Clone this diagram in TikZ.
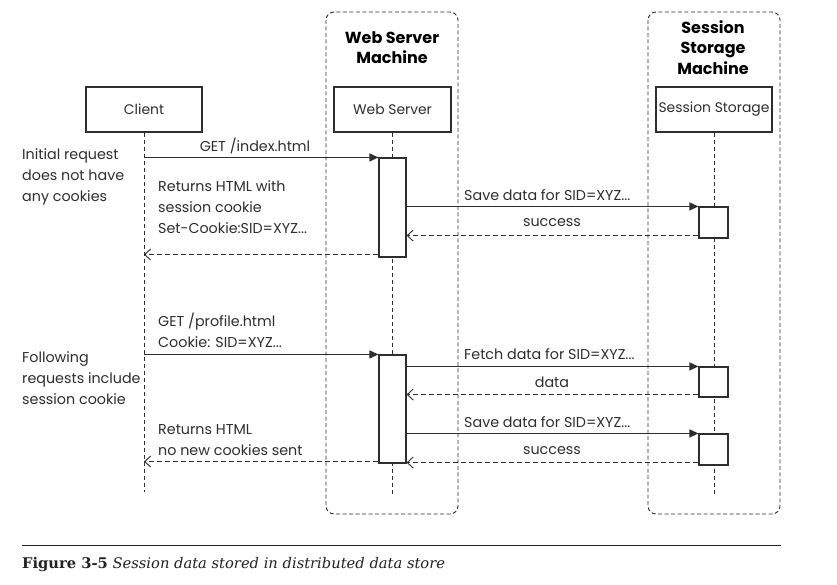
\documentclass[tikz,border=0pt]{standalone}
\usepackage{fontspec}
\setmainfont{Poppins}
\newfontfamily\capfont{DejaVu Serif}
\usetikzlibrary{arrows.meta,calc}
\definecolor{ink}{HTML}{2E2E2E}
\definecolor{capink}{HTML}{222222}
\tikzset{
  lbl/.style={font=\fontsize{14.3}{21}\selectfont, text=ink, inner sep=0pt},
  lblL/.style={lbl, anchor=west, align=left},
  ttl/.style={font=\fontsize{16}{20.5}\selectfont\bfseries, text=black, inner sep=0pt, align=center},
  objbox/.style={draw=ink, line width=1.1pt, fill=white, minimum width=116pt, minimum height=45pt, inner sep=0pt, font=\fontsize{13.9}{15}\selectfont, text=ink},
  actbox/.style={draw=ink, line width=1.1pt, fill=white, inner sep=0pt},
  frame/.style={draw=ink, line width=0.9pt, dash pattern=on 4pt off 2.5pt, rounded corners=8pt},
  life/.style={draw=ink, line width=0.9pt, dash pattern=on 4pt off 3pt},
  call/.style={draw=ink, line width=1.1pt, -{Triangle[length=9pt,width=8pt]}},
  ret/.style={draw=ink, line width=0.9pt, dash pattern=on 5pt off 3pt, -{Straight Barb[length=6pt,width=11pt,line width=0.9pt]}},
}
\begin{document}
\begin{tikzpicture}[x=1pt,y=-1pt]
\useasboundingbox[fill=white] (0,0) rectangle (837,585);

% machine frames
\draw[frame] (326,12) rectangle (458,514);
\draw[frame] (648,12) rectangle (780,514);
\node[ttl] (wsm) at (392,47.5) {Web Server\\Machine};
\node[ttl] (ssm) at (713,47.5) {Session\\Storage\\Machine};

% objects
\node[objbox] (client) at (144,109.5) {Client};
\node[objbox, minimum width=117pt] (web) at (392.5,109.5) {Web Server};
\node[objbox] (store) at (714,109.5) {Session Storage};

% lifeline ends
\coordinate (clientEnd) at (144,492);
\coordinate (webEnd) at (392.5,495);
\coordinate (storeEnd) at (714,495);
\draw[life] (client.south) -- (clientEnd);
\draw[life] (web.south) -- (webEnd);
\draw[life] (store.south) -- (storeEnd);

% activations
\node[actbox, minimum width=27pt, minimum height=99pt] (a1) at (392.5,207.5) {};
\node[actbox, minimum width=27pt, minimum height=108pt] (a2) at (392.5,409) {};
\node[actbox, minimum width=29pt, minimum height=31pt] (s1) at (713.5,222.5) {};
\node[actbox, minimum width=29pt, minimum height=30pt] (s2) at (713.5,382) {};
\node[actbox, minimum width=29pt, minimum height=31pt] (s3) at (713.5,449.5) {};

% first request
\draw[call] (a1.north west -| client.south) -- (a1.north west);
\draw[call] (a1.east |- s1.north) -- (s1.north west);
\draw[ret] ([yshift=3pt]s1.south west) -- ([yshift=3pt]s1.south west -| a1.east);
\draw[ret] ([yshift=3pt]a1.south west) -- ([yshift=3pt]a1.south west -| client.south);

% second request
\draw[call] (a2.north west -| client.south) -- (a2.north west);
\draw[call] (a2.east |- s2.north) -- (s2.north west);
\draw[ret] ([yshift=3pt]s2.south west) -- ([yshift=3pt]s2.south west -| a2.east);
\draw[call] (a2.east |- s3.north) -- (s3.north west);
\draw[ret] ([yshift=3pt]s3.south west) -- ([yshift=3pt]s3.south west -| a2.east);
\draw[ret] ([yshift=2pt]a2.south west) -- ([yshift=2pt]a2.south west -| client.south);

% labels
\node[lbl] (l1) at (255,146) {GET /index.html};
\node[lblL] (l2) at (158,207) {Returns HTML with\\session cookie\\Set-Cookie:SID=XYZ...};
\node[lblL] (l3) at (464,195) {Save data for SID=XYZ...};
\node[lbl] (l4) at (552,223) {success};
\node[lblL] (n1) at (22,177) {Initial request\\does not have\\any cookies};

\node[lblL] (l5) at (158,330.5) {GET /profile.html\\Cookie: SID=XYZ...};
\node[lblL] (n2) at (22,378) {Following\\requests include\\session cookie};
\node[lblL] (l6) at (464,354) {Fetch data for SID=XYZ...};
\node[lbl] (l7) at (552,382) {data};
\node[lblL] (l8) at (464,422) {Save data for SID=XYZ...};
\node[lbl] (l9) at (552,451) {success};
\node[lblL] (l10) at (158,440) {Returns HTML\\no new cookies sent};

% caption
\coordinate (rl) at (22,545);
\coordinate (rr) at (781,545);
\draw[capink, line width=1pt] (rl) -- (rr);
\node[anchor=west, inner sep=0pt, text=capink, font=\capfont\fontsize{14.7}{16}\selectfont] (cap) at (22,565) {\textbf{Figure 3-5} \textit{Session data stored in distributed data store}};
\end{tikzpicture}
\end{document}
